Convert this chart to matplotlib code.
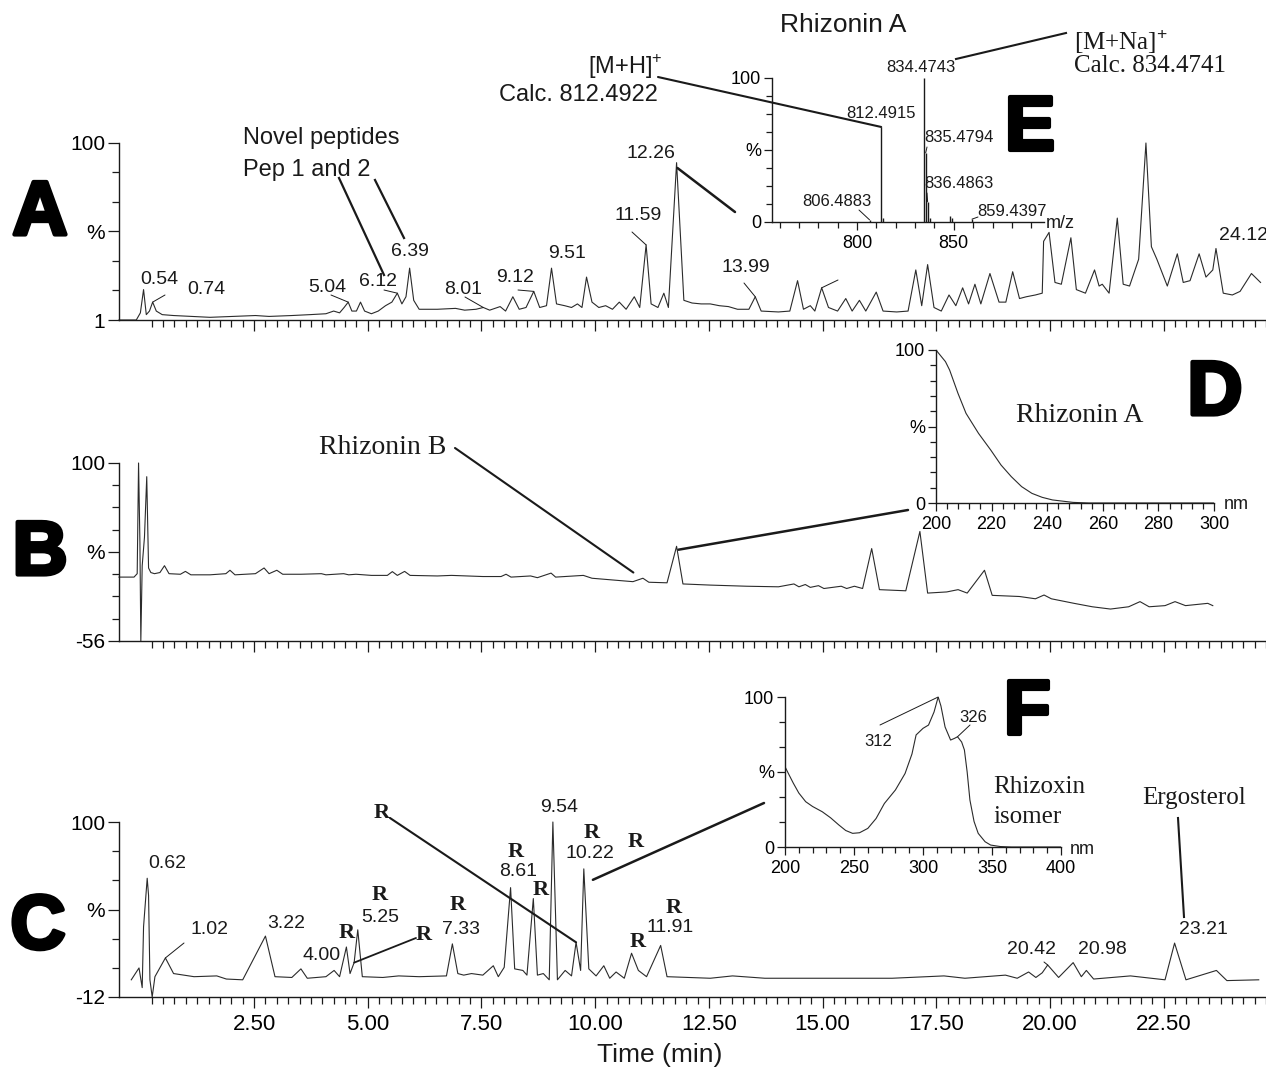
import numpy as np
import matplotlib.pyplot as plt
from matplotlib import patheffects

plt.rcParams['font.family'] = ['Liberation Sans', 'DejaVu Sans']
plt.rcParams['mathtext.fontset'] = 'custom'
plt.rcParams['mathtext.rm'] = 'Liberation Sans'

W, H = 1266, 1072
SERIF = ['Liberation Serif', 'DejaVu Serif']
INK = '#1a1a1a'
TRACE = '#2b2b2b'

# ---------------- data ----------------
# A: total ion chromatogram (time min, %)
a_trace = [(0.00, 1), (0.38, 1), (0.47, 5), (0.54, 18), (0.60, 4), (0.67, 6), (0.74, 11), (0.82, 6),
           (0.95, 4), (1.20, 3.5), (1.60, 3), (2.00, 2.5), (2.50, 3), (3.00, 3.5), (3.30, 3), (3.80, 3.5),
           (4.20, 4), (4.55, 4.5), (4.72, 6), (4.85, 5), (4.95, 8), (5.04, 11), (5.12, 6), (5.22, 6),
           (5.31, 11), (5.40, 6), (5.55, 4.5), (5.70, 6), (5.86, 9), (6.00, 11), (6.12, 16), (6.22, 10),
           (6.31, 14), (6.39, 30), (6.48, 12), (6.60, 7), (7.00, 7), (7.40, 7.5), (7.60, 6.5), (7.85, 7),
           (8.01, 8), (8.15, 6.5), (8.38, 8.5), (8.50, 6), (8.66, 14), (8.80, 7), (8.95, 8), (9.12, 17),
           (9.25, 8), (9.40, 9), (9.51, 30), (9.62, 10), (9.80, 9), (9.95, 8), (10.08, 10), (10.18, 8),
           (10.28, 25), (10.40, 11), (10.55, 8), (10.70, 9), (10.85, 7), (11.00, 11), (11.15, 7),
           (11.33, 14), (11.45, 8), (11.59, 43), (11.70, 10), (11.85, 8), (11.98, 16), (12.08, 8),
           (12.26, 89), (12.42, 12), (12.60, 10.5), (12.80, 10), (13.00, 10), (13.20, 9), (13.40, 8.5),
           (13.60, 7), (13.85, 7), (13.99, 14), (14.12, 6), (14.50, 5.5), (14.75, 6), (14.92, 23),
           (15.05, 7), (15.20, 9), (15.30, 6), (15.45, 19), (15.60, 8), (15.80, 6), (15.98, 13),
           (16.12, 6), (16.28, 12), (16.42, 6), (16.65, 16.6), (16.80, 6), (17.10, 5.5), (17.35, 6),
           (17.52, 29), (17.65, 9), (17.78, 32), (17.92, 8), (18.08, 6), (18.25, 15), (18.40, 9),
           (18.55, 19), (18.68, 10), (18.82, 21), (18.95, 10), (19.15, 27), (19.35, 11), (19.50, 11),
           (19.65, 28), (19.80, 13), (19.95, 14), (20.15, 15), (20.30, 16), (20.33, 45), (20.45, 50),
           (20.58, 22), (20.72, 21), (20.93, 47), (21.05, 18), (21.25, 16), (21.45, 29), (21.55, 20),
           (21.62, 21), (21.77, 16), (21.95, 58), (22.08, 21), (22.22, 20), (22.42, 35), (22.58, 100),
           (22.70, 42), (22.82, 35), (23.05, 20), (23.27, 38), (23.40, 22), (23.55, 23), (23.75, 38),
           (23.90, 25), (24.05, 29), (24.12, 41), (24.28, 16), (24.48, 15), (24.65, 17), (24.90, 27),
           (25.10, 22)]

# B: UV chromatogram (time min, %)
b_trace = [(0.00, 0), (0.33, 0), (0.40, 3), (0.43, 100), (0.46, 30), (0.48, -56), (0.51, 10),
           (0.56, 35), (0.61, 88), (0.65, 8), (0.70, 4), (0.78, 3), (0.90, 4), (1.00, 10), (1.10, 3),
           (1.35, 2.5), (1.46, 5), (1.58, 2), (2.00, 2), (2.35, 3), (2.44, 6), (2.55, 2), (3.00, 3),
           (3.19, 8), (3.30, 3), (3.47, 6), (3.60, 2.5), (4.00, 2.5), (4.45, 3), (4.55, 2), (4.94, 3),
           (5.05, 2), (5.21, 2.5), (5.55, 1.5), (5.90, 1.5), (6.01, 4.8), (6.12, 1.5), (6.28, 5),
           (6.40, 1.5), (7.00, 1), (7.31, 1.5), (8.00, 0.5), (8.40, 0.5), (8.51, 2.5), (8.62, 0),
           (9.05, 1), (9.20, -0.5), (9.50, 3.5), (9.60, 0), (10.21, 1.5), (10.40, -1), (11.00, -3),
           (11.30, -4), (11.52, -1), (11.65, -4.5), (12.05, -5), (12.26, 27), (12.40, -6), (13.00, -7),
           (13.80, -8), (14.50, -8.5), (14.84, -6), (14.95, -8.5), (15.09, -6.5), (15.20, -9),
           (15.38, -7.5), (15.50, -10), (15.88, -8), (16.00, -10), (16.17, -8), (16.35, -10),
           (16.55, 25), (16.72, -11), (17.30, -12), (17.61, 40), (17.78, -14), (18.20, -13),
           (18.45, -11), (18.65, -14), (19.03, 6), (19.20, -16), (19.80, -17), (20.15, -19),
           (20.34, -15.7), (20.50, -19), (21.00, -23), (21.40, -26), (21.80, -28), (22.20, -26),
           (22.45, -21.5), (22.65, -26), (23.00, -25), (23.22, -21.5), (23.45, -25), (23.94, -23),
           (24.05, -25)]

# C: UV chromatogram (time min, %)
c_trace = [(0.27, -1), (0.44, 6.6), (0.51, -6), (0.54, 33), (0.62, 64), (0.65, 53), (0.68, -1),
           (0.73, -12), (0.79, 1), (1.02, 13), (1.20, 3), (1.65, 1), (2.15, 1.5), (2.36, -0.5),
           (2.72, -1), (3.22, 27), (3.43, 1), (3.80, 0.5), (4.00, 6), (4.14, 0), (4.55, 1), (4.73, 5),
           (4.85, 1), (5.00, 20), (5.08, 3), (5.17, 10), (5.25, 31), (5.35, 1), (5.80, 0.5), (6.15, 1.5),
           (6.60, 1), (7.20, 1.5), (7.33, 22), (7.45, 3), (7.58, 2), (7.75, 3), (8.00, 2), (8.23, 8),
           (8.34, 1), (8.47, 7), (8.61, 58), (8.70, 6), (8.88, 5), (8.97, 2), (9.11, 51), (9.20, 2),
           (9.33, 3), (9.46, -1), (9.54, 100), (9.64, -1), (9.81, 5), (9.95, 1.5), (10.05, 23),
           (10.15, 5), (10.22, 70), (10.33, 6), (10.49, 1.5), (10.66, 8), (10.79, 0), (10.93, 4),
           (11.11, 0), (11.27, 16), (11.42, 5), (11.60, 1), (11.91, 21), (12.05, 1), (13.00, 0),
           (13.49, 1.5), (14.20, 0), (15.50, 0), (17.00, 0), (18.14, 1.5), (18.60, 0), (19.49, 2),
           (19.75, 0), (20.00, 4), (20.16, 0.5), (20.30, 3.5), (20.42, 8.5), (20.66, 0.5), (20.98, 10),
           (21.16, 1), (21.27, 5), (21.43, -0.5), (22.24, 1.5), (23.00, -1), (23.21, 22.5),
           (23.46, -1), (24.13, 5), (24.36, -1.5), (25.06, -1)]

a_peaks = [0.54, 0.74, 5.04, 6.12, 6.39, 8.01, 9.12, 9.51, 11.59, 12.26, 13.99, 24.12]
c_peaks = [0.62, 1.02, 3.22, 4.00, 5.25, 7.33, 8.61, 9.54, 10.22, 11.91, 20.42, 20.98, 23.21]
time_ticks = [2.50, 5.00, 7.50, 10.00, 12.50, 15.00, 17.50, 20.00, 22.50]
tick_shift = 0.47   # axis labels sit a bit right of the peak times in the original

# E: mass spectrum of rhizonin A (m/z, %)
e_mz = [806.4883, 812.4915, 813.49, 834.4743, 835.4794, 836.4863, 837.49, 848.0, 849.0, 859.4397]
e_int = [1.5, 66, 3, 100, 48, 14, 3, 4, 2.5, 2]
e_named = [812.4915, 834.4743, 835.4794, 836.4863, 806.4883, 859.4397]

# D: UV spectrum of rhizonin A (nm, %)
d_nm = [200, 203.4, 204.9, 207.9, 210.8, 215.3, 219.7, 223.4, 227.1, 230.8, 234.5, 238.2, 241.9,
        249.3, 255, 300]
d_int = [100, 92.4, 86.9, 71.7, 58.6, 45.5, 34.6, 24.8, 17.2, 10.7, 6.3, 3.7, 2, 0.4, 0, 0]

# F: UV spectrum of rhizoxin isomer (nm, %)
f_nm = [200, 203, 206, 210, 215, 220, 227, 233, 239, 244, 249, 254, 260, 266, 272, 280, 287, 292,
        295, 300, 304, 308, 311, 313, 316, 320, 323, 325, 328, 330, 332, 334, 337, 340, 345, 349,
        356, 364, 400]
f_int = [53.5, 48, 42.6, 36, 30.2, 27, 23.5, 19.5, 14.7, 11, 9.1, 9.5, 12.4, 19, 29, 38, 49, 62,
         74.7, 79.1, 81.3, 90, 100, 94, 80, 71.3, 72.5, 73.5, 70, 64.7, 50, 31.3, 17, 9.1, 3.5, 1.3,
         0.3, 0, 0]

# ---------------- layout helpers (pixel positions of the original) ----------------
fig = plt.figure(figsize=(W / 100, H / 100), dpi=100)


def fig_ax(left, top, right, bottom):
    ax = fig.add_axes([left / W, 1 - bottom / H, (right - left) / W, (bottom - top) / H])
    ax.patch.set_alpha(0)
    for s in ['top', 'right']:
        ax.spines[s].set_visible(False)
    for s in ['left', 'bottom']:
        ax.spines[s].set_linewidth(1.0)
        ax.spines[s].set_color(INK)
    ax.tick_params(which='both', direction='out', color=INK, width=0.9)
    ax.tick_params(which='major', length=8)
    ax.tick_params(which='minor', length=5)
    return ax


def text(x, y, s, size=14, ha='center', **kw):
    fig.text(x / W, 1 - y / H, s, fontsize=size, ha=ha, va='center', color=INK, **kw)


def letter(x, y, s):
    fig.text(x / W, 1 - y / H, s, fontsize=55, fontweight='bold', ha='center', va='center',
             color='black', path_effects=[patheffects.withStroke(linewidth=3, foreground='black')])


def leader(ax, xy, px, lw=0.7):
    ax.annotate('', xy=xy, xycoords='data', xytext=(px[0], H - px[1]), textcoords='figure pixels',
                arrowprops=dict(arrowstyle='-', color=INK, lw=lw, shrinkA=0, shrinkB=0),
                annotation_clip=False)


def fig_line(p1, p2, lw=1.6):
    fig.add_artist(plt.Line2D([p1[0] / W, p2[0] / W], [1 - p1[1] / H, 1 - p2[1] / H],
                              transform=fig.transFigure, color=INK, lw=lw))


def time_axis(ax, labels):
    ax.set_xlim(0, 25.1)
    ax.set_xticks([t + tick_shift for t in time_ticks])
    ax.set_xticks(np.arange(0.25, 25, 0.25) + tick_shift, minor=True)
    if labels:
        ax.set_xticklabels([f'{t:.2f}' for t in time_ticks], fontsize=16)
    else:
        ax.set_xticklabels([])
    ax.tick_params(axis='x', pad=4)


def pct_axis(ax, lo, hi, nminor, lo_label, size=15):
    ax.set_ylim(lo, hi)
    ax.set_yticks([lo, (lo + hi) / 2, hi])
    ax.set_yticklabels([lo_label, '%', '100'], fontsize=size)
    ax.set_yticks(np.linspace(lo, hi, nminor), minor=True)
    ax.tick_params(axis='y', pad=2)


# ---------------- chromatograms ----------------
axA = fig_ax(119, 143, 1266, 320)
axB = fig_ax(119, 463, 1266, 641)
axC = fig_ax(119, 822, 1266, 997)

a_time, a_int = zip(*a_trace)
b_time, b_int = zip(*b_trace)
c_time, c_int = zip(*c_trace)

axA.plot(a_time, a_int, color=TRACE, lw=0.8, clip_on=False)
axB.plot(b_time, b_int, color=TRACE, lw=0.8, clip_on=False)
axC.plot(c_time, c_int, color=TRACE, lw=0.8, clip_on=False)

time_axis(axA, False)
time_axis(axB, False)
time_axis(axC, True)
pct_axis(axA, 1, 100, 7, '1')
pct_axis(axB, -56, 100, 9, '-56')
pct_axis(axC, -12, 100, 7, '-12')

letter(40, 215, 'A')
letter(40, 555, 'B')
letter(38, 929, 'C')
text(660, 1055, 'Time (min)', size=19)


def peak_y(trace_t, trace_v, t):
    return np.interp(t, trace_t, trace_v)


# A labels
a_label_pos = [(159, 279), (206, 290), (327, 288), (378, 282), (410, 252), (463, 290), (515, 278),
               (567, 253), (638, 215), (651, 153), (746, 268), (1243, 235)]
for t, (x, y) in zip(a_peaks, a_label_pos):
    text(x, y, f'{t:.2f}', size=14)
a_leaders = {0.74: (165, 295), 5.04: (331, 295), 6.12: (384, 290), 8.01: (465, 297),
             9.12: (518, 290), 11.59: (632, 232), 13.99: (744, 283), 15.45: (838, 280)}
for t, px in a_leaders.items():
    leader(axA, (t, peak_y(a_time, a_int, t)), px)

text(243, 138, 'Novel peptides', size=17, ha='left')
text(243, 170, 'Pep 1 and 2', size=17, ha='left')
fig_line((339, 178), (384, 275))
fig_line((375, 180), (404, 238))

# B annotation
text(383, 448, 'Rhizonin B', size=20, family=SERIF)
leader(axB, (11.31, 4), (455, 448), lw=1.5)

# C labels
c_label_pos = [(167, 863), (209, 930), (286, 923), (322, 955), (380, 917), (461, 930), (518, 872),
               (559, 808), (590, 853), (670, 928), (1032, 950), (1102, 950), (1203, 930)]
for t, (x, y) in zip(c_peaks, c_label_pos):
    text(x, y, f'{t:.2f}', size=14)
leader(axC, (1.02, peak_y(c_time, c_int, 1.02)), (184, 943))
leader(axC, (20.42, peak_y(c_time, c_int, 20.42)), (1044, 962))

r_pos = [(347, 933), (380, 895), (424, 935), (458, 905), (516, 852), (541, 890), (382, 813),
         (592, 833), (636, 842), (638, 942), (674, 908)]
for x, y in r_pos:
    text(x, y, 'R', size=16, fontweight='bold', family=SERIF)
leader(axC, (5.17, 10), (416, 938), lw=1.3)
leader(axC, (10.05, 23), (390, 818), lw=1.5)

text(1194, 798, 'Ergosterol', size=18, family=SERIF)
fig_line((1178, 818), (1184, 917), lw=1.5)

# ---------------- E: mass spectrum inset ----------------
axE = fig_ax(772, 78, 1044, 222)
axE.vlines(e_mz, 0, e_int, color=INK, lw=1.0)
axE.set_xlim(756.1, 896.6)
axE.set_xticks([800, 850])
axE.set_xticklabels(['800', '850'], fontsize=13)
axE.set_xticks(np.arange(760, 896, 10), minor=True)
pct_axis(axE, 0, 100, 9, '0', size=13)
axE.tick_params(which='major', length=6)
axE.tick_params(which='minor', length=4)
text(1060, 224, 'm/z', size=13)

e_label_pos = [(881, 113), (921, 68), (959, 137), (959, 183), (837, 202), (1012, 212)]
for mz, (x, y) in zip(e_named, e_label_pos):
    text(x, y, f'{mz:.4f}', size=12)
leader(axE, (835.4794, 48), (927, 147))
leader(axE, (836.4863, 14), (927, 193))
leader(axE, (806.4883, 1.5), (859, 210))
leader(axE, (859.4397, 2), (978, 217))

text(843, 25, 'Rhizonin A', size=19)
text(588, 67, r'[M+H]$^{+}$', size=17, ha='left')
text(578, 95, 'Calc. 812.4922', size=17)
leader(axE, (812.4915, 66), (658, 77), lw=1.5)
text(1074, 42, r'[M+Na]$^{+}$', size=18, ha='left', family=SERIF)
text(1074, 66, 'Calc. 834.4741', size=18, ha='left', family=SERIF)
fig_line((956, 59), (1066, 33), lw=1.5)
letter(1030, 130, 'E')
leader(axA, (12.28, 86), (735, 212), lw=1.8)

# ---------------- D: UV spectrum of rhizonin A ----------------
axD = fig_ax(936, 350, 1214, 503)
axD.plot(d_nm, d_int, color=TRACE, lw=0.8)
axD.set_xlim(200, 300)
axD.set_xticks(np.arange(200, 301, 20))
axD.set_xticklabels([str(v) for v in range(200, 301, 20)], fontsize=13)
axD.set_xticks(np.arange(200, 300, 4), minor=True)
pct_axis(axD, 0, 100, 11, '0', size=13)
axD.tick_params(which='major', length=6)
axD.tick_params(which='minor', length=4)
text(1236, 505, 'nm', size=13)
text(1080, 415, 'Rhizonin A', size=20, family=SERIF)
letter(1215, 395, 'D')
leader(axB, (12.30, 24), (908, 510), lw=1.8)

# ---------------- F: UV spectrum of rhizoxin isomer ----------------
axF = fig_ax(785, 697, 1061, 847)
axF.plot(f_nm, f_int, color=TRACE, lw=0.8)
axF.set_xlim(200, 400)
axF.set_xticks(np.arange(200, 401, 50))
axF.set_xticklabels([str(v) for v in range(200, 401, 50)], fontsize=13)
axF.set_xticks(np.arange(200, 400, 10), minor=True)
pct_axis(axF, 0, 100, 7, '0', size=13)
axF.tick_params(which='major', length=6)
axF.tick_params(which='minor', length=4)
text(1082, 849, 'nm', size=13)
text(878, 742, '312', size=12)
text(973, 717, '326', size=12)
leader(axF, (311, 100), (880, 725))
leader(axF, (325, 73.5), (970, 725))
text(993, 787, 'Rhizoxin', size=18, ha='left', family=SERIF)
text(993, 817, 'isomer', size=18, ha='left', family=SERIF)
letter(1027, 714, 'F')
leader(axC, (10.42, 63), (764, 803), lw=1.8)

fig.savefig('out.png', dpi=100)
